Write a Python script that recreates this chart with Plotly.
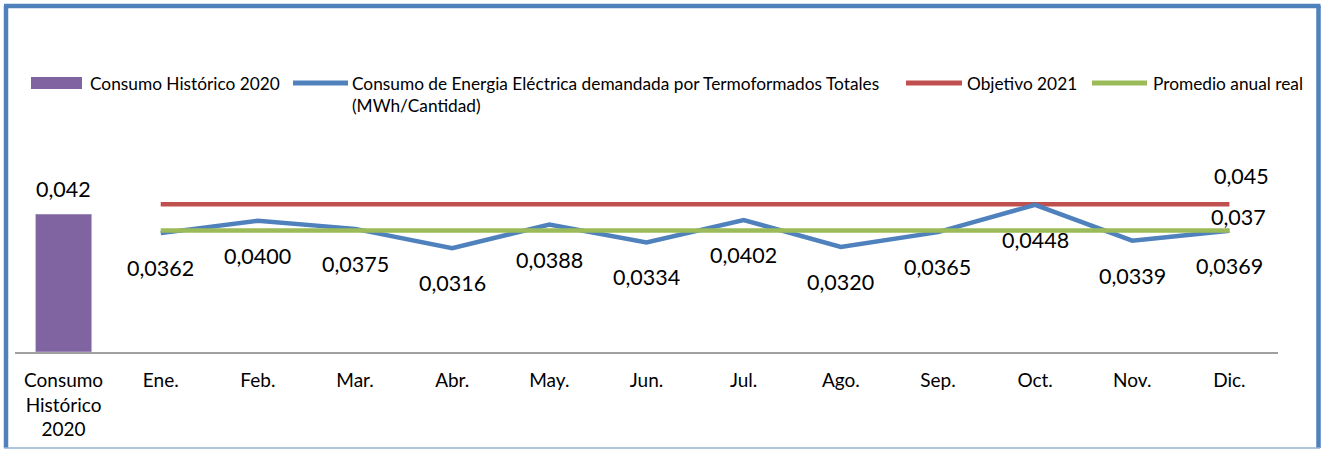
import plotly.graph_objects as go

# ---- data ----
bar_category = ["Consumo<br>Histórico<br>2020"]
bar_values = [0.042]
bar_labels = ["0,042"]

months = ["Ene.", "Feb.", "Mar.", "Abr.", "May.", "Jun.", "Jul.", "Ago.", "Sep.", "Oct.", "Nov.", "Dic."]
consumo = [0.0362, 0.0400, 0.0375, 0.0316, 0.0388, 0.0334, 0.0402, 0.0320, 0.0365, 0.0448, 0.0339, 0.0369]
consumo_labels = ["0,0362", "0,0400", "0,0375", "0,0316", "0,0388", "0,0334", "0,0402", "0,0320",
                  "0,0365", "0,0448", "0,0339", "0,0369"]
objetivo = [0.045, 0.045, 0.045, 0.045, 0.045, 0.045, 0.045, 0.045, 0.045, 0.045, 0.045, 0.045]
promedio = [0.037, 0.037, 0.037, 0.037, 0.037, 0.037, 0.037, 0.037, 0.037, 0.037, 0.037, 0.037]
objetivo_label = "0,045"
promedio_label = "0,037"

legend_names = ["Consumo Histórico 2020",
                "Consumo de Energia Eléctrica demandada por Termoformados Totales<br>(MWh/Cantidad)",
                "Objetivo 2021",
                "Promedio anual real"]

C_BAR = "#8064A2"
C_BLUE = "#4F81BD"
C_RED = "#C0504D"
C_GREEN = "#9BBB59"
FONT = "Lato"

W, H = 1325, 449
L, R, T, B = 15, 47, 155, 97
PW = W - L - R
PH = H - T - B


def px(x):
    return (x - L) / PW


def py(y):
    return (H - B - y) / PH


fig = go.Figure()
fig.add_trace(go.Bar(x=bar_category, y=bar_values, marker_color=C_BAR, width=0.58,
                     showlegend=False, hoverinfo="skip"))
fig.add_trace(go.Scatter(x=months, y=objetivo, mode="lines", line=dict(color=C_RED, width=4.5),
                         showlegend=False))
fig.add_trace(go.Scatter(x=months, y=consumo, mode="lines", line=dict(color=C_BLUE, width=4.5),
                         showlegend=False))
fig.add_trace(go.Scatter(x=months, y=promedio, mode="lines", line=dict(color=C_GREEN, width=4.5),
                         showlegend=False))

ann = []
lab_font = dict(family=FONT, size=21.5, color="#000000")
for m, v, t in zip(months, consumo, consumo_labels):
    ann.append(dict(x=m, y=v, xref="x", yref="y", text=t, showarrow=False, yshift=-35, font=lab_font))
ann.append(dict(x=bar_category[0], y=bar_values[0], xref="x", yref="y", text=bar_labels[0],
                showarrow=False, yshift=25, font=lab_font))
ann.append(dict(x=months[-1], y=objetivo[-1], xref="x", yref="y", text=objetivo_label,
                showarrow=False, yshift=28, xshift=12, font=lab_font))
ann.append(dict(x=months[-1], y=promedio[-1], xref="x", yref="y", text=promedio_label,
                showarrow=False, yshift=14, xshift=9, font=lab_font))

# manual legend
leg_font = dict(family=FONT, size=17.3, color="#000000")
leg_y = 83
shapes = []
shapes.append(dict(type="rect", xref="paper", yref="paper", x0=px(31), x1=px(82), y0=py(89), y1=py(77),
                   fillcolor=C_BAR, line=dict(width=0)))
for (x0, x1, c) in [(293, 348, C_BLUE), (906, 962, C_RED), (1092, 1147, C_GREEN)]:
    shapes.append(dict(type="line", xref="paper", yref="paper", x0=px(x0), x1=px(x1), y0=py(leg_y), y1=py(leg_y),
                       line=dict(color=c, width=5)))
for (xt, name) in zip([88, 350, 965, 1151], legend_names):
    ann.append(dict(x=px(xt), y=py(leg_y - 12), xref="paper", yref="paper", text=name, showarrow=False,
                    xanchor="left", yanchor="top", align="left", font=leg_font))

# frame
shapes.append(dict(type="line", xref="paper", yref="paper", x0=px(6), x1=px(6), y0=py(448), y1=py(6),
                   line=dict(color=C_BLUE, width=4.5)))
shapes.append(dict(type="line", xref="paper", yref="paper", x0=px(4), x1=px(1320.5), y0=py(6), y1=py(6),
                   line=dict(color=C_BLUE, width=4.5)))
shapes.append(dict(type="line", xref="paper", yref="paper", x0=px(1318.5), x1=px(1318.5), y0=py(448), y1=py(6),
                   line=dict(color=C_BLUE, width=4.5)))
shapes.append(dict(type="line", xref="paper", yref="paper", x0=px(4), x1=px(1320), y0=py(448), y1=py(448),
                   line=dict(color="#95B3D7", width=1.5)))

fig.update_layout(
    width=W, height=H,
    margin=dict(l=L, r=R, t=T, b=B, autoexpand=False),
    paper_bgcolor="white", plot_bgcolor="white",
    showlegend=False,
    annotations=ann, shapes=shapes,
    xaxis=dict(categoryorder="array", categoryarray=bar_category + months,
               showline=True, linecolor="#A0A0A0", linewidth=2, ticks="", showgrid=False,
               tickfont=dict(family=FONT, size=19, color="#000000"), ticklabelstandoff=10,
               range=[-0.5, 12.5], fixedrange=True, automargin=False),
    yaxis=dict(range=[0, 0.06], visible=False, showgrid=False, fixedrange=True, automargin=False),
    font=dict(family=FONT),
)

fig.write_html("out.html", config={"displayModeBar": False},
               post_script="document.body.style.margin='0';document.body.style.overflow='hidden';")
